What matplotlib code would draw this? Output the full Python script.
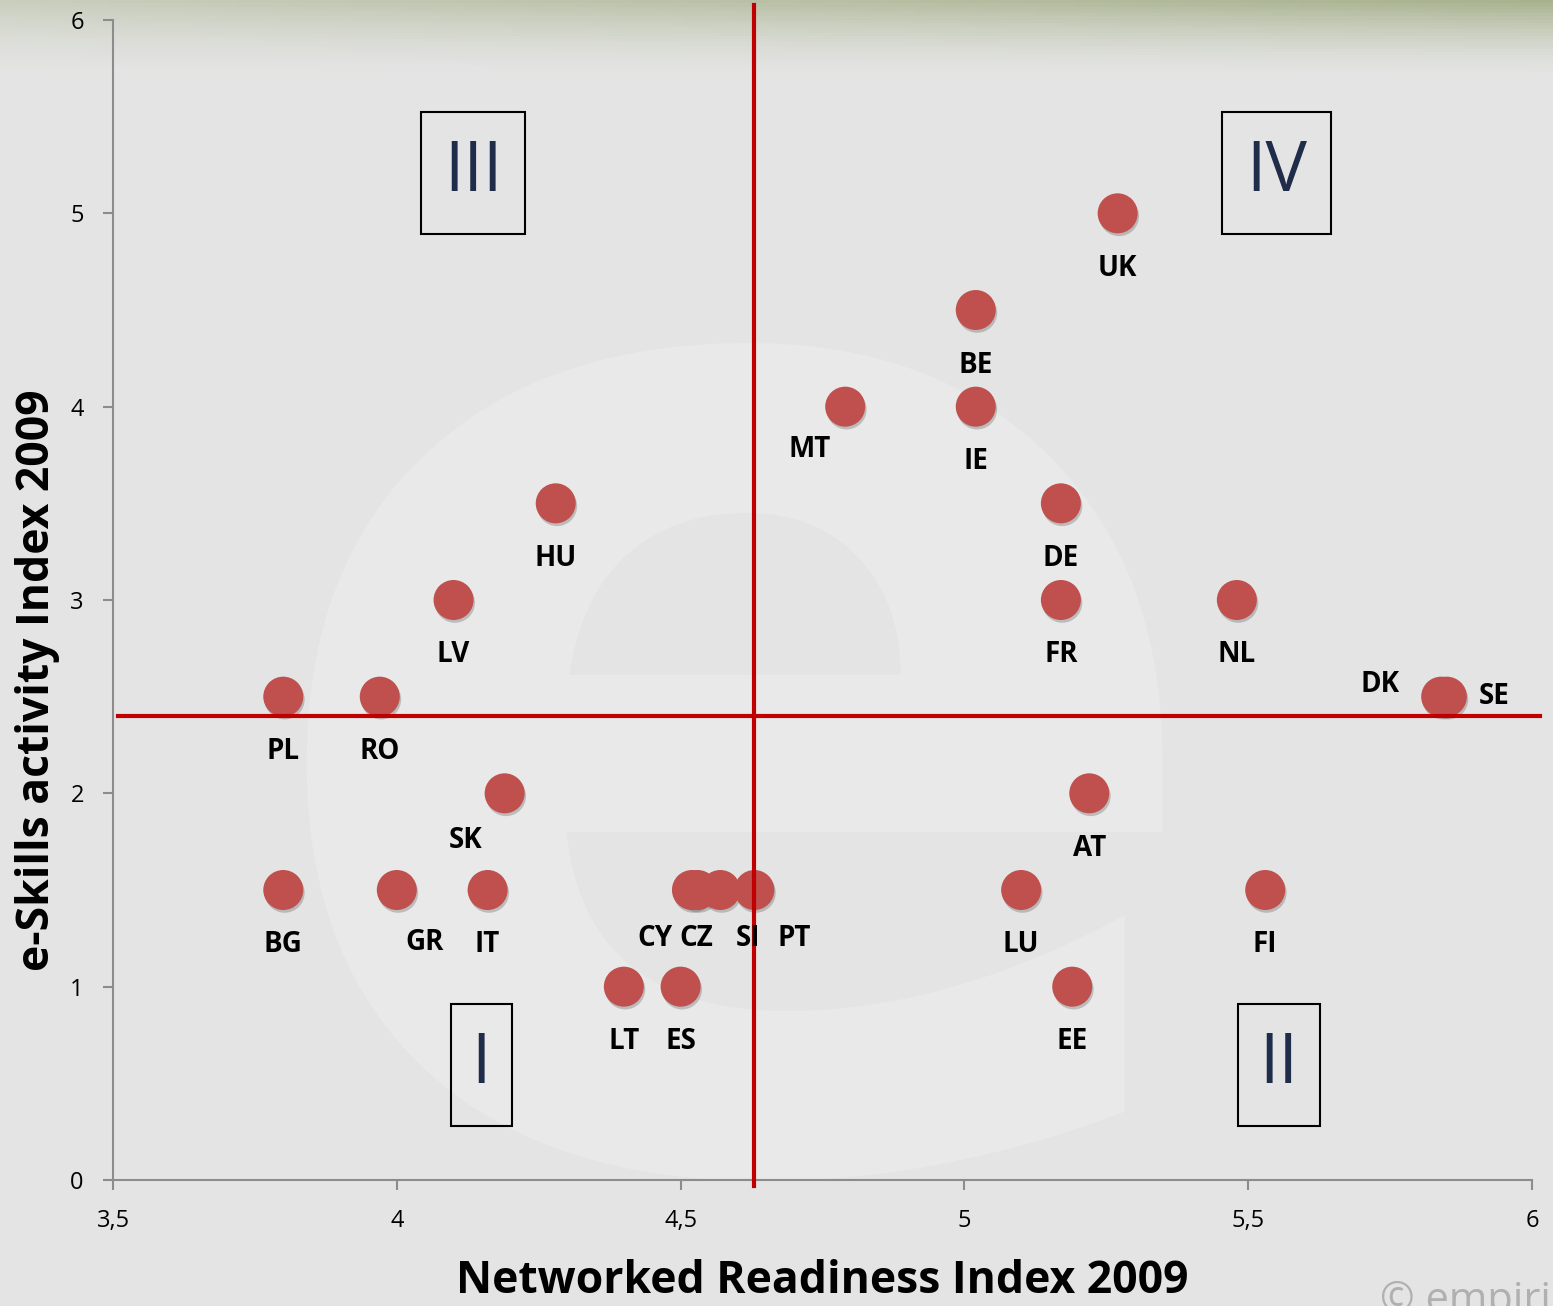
import numpy as np
import matplotlib
matplotlib.use("Agg")
import matplotlib.pyplot as plt
import matplotlib.patheffects as pe
from matplotlib.patches import Rectangle

# data
countries = ["UK", "BE", "IE", "MT", "DE", "FR", "NL", "DK", "SE", "HU", "LV", "PL", "RO",
             "SK", "BG", "GR", "IT", "CY", "CZ", "SI", "PT", "LT", "ES", "AT", "LU", "FI", "EE"]
nri = [5.27, 5.02, 5.02, 4.79, 5.17, 5.17, 5.48, 5.84, 5.85, 4.28, 4.10, 3.80, 3.97,
       4.19, 3.80, 4.00, 4.16, 4.52, 4.53, 4.57, 4.63, 4.40, 4.50, 5.22, 5.10, 5.53, 5.19]
eskills = [5.0, 4.5, 4.0, 4.0, 3.5, 3.0, 3.0, 2.5, 2.5, 3.5, 3.0, 2.5, 2.5,
           2.0, 1.5, 1.5, 1.5, 1.5, 1.5, 1.5, 1.5, 1.0, 1.0, 2.0, 1.5, 1.5, 1.0]
nri_mean = 4.63
eskills_mean = 2.4
x_ticks = [3.5, 4, 4.5, 5, 5.5, 6]
x_tick_labels = ["3,5", "4", "4,5", "5", "5,5", "6"]
y_ticks = [0, 1, 2, 3, 4, 5, 6]

# label offsets in pixels (default is straight below the dot)
offsets = {"MT": (-36, -43), "DK": (-61, 12), "SE": (47, 0), "SK": (-39, -47),
           "GR": (28, -52), "CY": (-37, -48), "CZ": (-1, -48), "SI": (28, -48),
           "PT": (40, -48)}

plt.rcParams["font.family"] = ["Open Sans", "DejaVu Sans"]

fig = plt.figure(figsize=(15.53, 13.06), dpi=100)

# background: light gray with a soft greenish tint along the top
bg = fig.add_axes([0, 0, 1, 1], zorder=-10)
yy, xx = np.mgrid[0:1:400j, 0:1:300j]
top = np.array([0.66, 0.70, 0.56])
mid = np.array([0.898, 0.898, 0.898])
t = np.clip(1 - yy / 0.06, 0, 1) ** 1.6 * (0.45 + 0.55 * xx)
img = mid * (1 - t)[..., None] + top * t[..., None]
bg.imshow(img, aspect="auto", extent=[0, 1, 0, 1], origin="upper")
bg.text(0.475, 0.42, "e", fontsize=1050, color="#e9e9e9", ha="center", va="center",
        fontweight="bold", family="DejaVu Sans")
bg.axis("off")
bg.set_xlim(0, 1)
bg.set_ylim(0, 1)

ax = fig.add_axes([113 / 1553, 1 - 1180 / 1306, (1532 - 113) / 1553, (1180 - 20) / 1306])
ax.patch.set_alpha(0)

ax.set_xlim(3.5, 6)
ax.set_ylim(0, 6)

ax.scatter(nri, eskills, s=830, color="#c0504d", zorder=3, edgecolors="none",
           path_effects=[pe.SimplePatchShadow(offset=(1, -2), shadow_rgbFace="#555555", alpha=0.3),
                         pe.Normal()])

for c, x, y in zip(countries, nri, eskills):
    dx, dy = offsets.get(c, (0, -55))
    ax.annotate(c, (x, y), xytext=(dx, dy), textcoords="offset pixels",
                ha="center", va="center", fontsize=20, fontweight="bold", color="black", zorder=5)

# quadrant lines
ax.plot([3.509, 6.014], [eskills_mean, eskills_mean], color="#c00000", lw=3, clip_on=False, zorder=4)
ax.plot([nri_mean, nri_mean], [-0.03, 6.08], color="#c00000", lw=3, clip_on=False, zorder=4)

# quadrant boxes
boxes = [("III", 4.043, 4.894, 0.183, 0.631),
         ("IV", 5.454, 4.894, 0.192, 0.631),
         ("I", 4.095, 0.279, 0.108, 0.631),
         ("II", 5.482, 0.279, 0.145, 0.631)]
for name, bx, by, bw, bh in boxes:
    ax.add_patch(Rectangle((bx, by), bw, bh, fill=False, edgecolor="black", lw=1.5, zorder=2))
    ax.text(bx + bw / 2, by + bh / 2, name, ha="center", va="center", fontsize=50,
            color="#1f2d4a", zorder=2)

for side in ["top", "right"]:
    ax.spines[side].set_visible(False)
for side in ["left", "bottom"]:
    ax.spines[side].set_color("#8c8c8c")
    ax.spines[side].set_linewidth(1.5)

ax.set_xticks(x_ticks)
ax.set_xticklabels(x_tick_labels)
ax.set_yticks(y_ticks)
ax.tick_params(axis="both", length=7, width=1.5, color="#8c8c8c", labelsize=17, labelcolor="black")
ax.tick_params(axis="x", pad=14)
ax.tick_params(axis="y", pad=14)

ax.set_xlabel("Networked Readiness Index 2009", fontsize=32, fontweight="bold")
ax.xaxis.set_label_coords(0.5, -0.068)
ax.set_ylabel("e-Skills activity Index 2009", fontsize=32, fontweight="bold", va="center")
ax.yaxis.set_label_coords(-0.053, 0.431)

fig.text(1380 / 1553, -0.012, "© empirica", fontsize=30, color="#b0b0b0", ha="left", va="bottom")

fig.savefig("out.png", dpi=100)
